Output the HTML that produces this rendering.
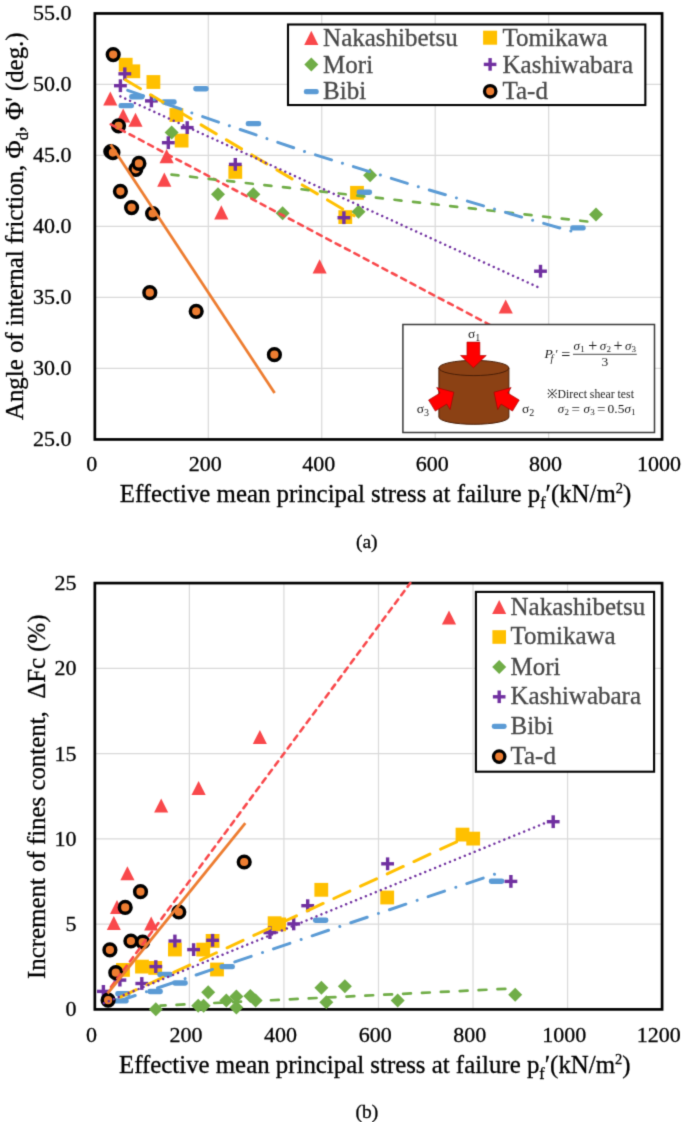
<!DOCTYPE html>
<html><head><meta charset="utf-8"><style>
html,body{margin:0;padding:0;background:#fff;overflow:hidden;}
svg{display:block;font-family:"Liberation Serif", serif;}
</style></head><body>
<svg width="685" height="1122" viewBox="0 0 685 1122">
<defs><filter id="soft" x="0" y="0" width="685" height="1122" filterUnits="userSpaceOnUse" color-interpolation-filters="sRGB"><feConvolveMatrix order="3" kernelMatrix="0.01917 0.10012 0.01917 0.10012 0.52283 0.10012 0.01917 0.10012 0.01917" divisor="1" edgeMode="duplicate" preserveAlpha="true"/></filter></defs>
<g filter="url(#soft)">
<rect width="685" height="1122" fill="#fff"/>
<line x1="208.30" y1="14" x2="208.30" y2="439" stroke="#D9D9D9" stroke-width="1.2"/>
<line x1="321.75" y1="14" x2="321.75" y2="439" stroke="#D9D9D9" stroke-width="1.2"/>
<line x1="435.20" y1="14" x2="435.20" y2="439" stroke="#D9D9D9" stroke-width="1.2"/>
<line x1="548.65" y1="14" x2="548.65" y2="439" stroke="#D9D9D9" stroke-width="1.2"/>
<line x1="95" y1="368.45" x2="662" y2="368.45" stroke="#D9D9D9" stroke-width="1.2"/>
<line x1="95" y1="297.45" x2="662" y2="297.45" stroke="#D9D9D9" stroke-width="1.2"/>
<line x1="95" y1="226.45" x2="662" y2="226.45" stroke="#D9D9D9" stroke-width="1.2"/>
<line x1="95" y1="155.45" x2="662" y2="155.45" stroke="#D9D9D9" stroke-width="1.2"/>
<line x1="95" y1="84.45" x2="662" y2="84.45" stroke="#D9D9D9" stroke-width="1.2"/>
<text x="91.8" y="471" font-size="22" text-anchor="middle" fill="#000" stroke="#000" stroke-width="0.3" >0</text>
<text x="205.3" y="471" font-size="22" text-anchor="middle" fill="#000" stroke="#000" stroke-width="0.3" >200</text>
<text x="318.8" y="471" font-size="22" text-anchor="middle" fill="#000" stroke="#000" stroke-width="0.3" >400</text>
<text x="432.2" y="471" font-size="22" text-anchor="middle" fill="#000" stroke="#000" stroke-width="0.3" >600</text>
<text x="545.6" y="471" font-size="22" text-anchor="middle" fill="#000" stroke="#000" stroke-width="0.3" >800</text>
<text x="659.1" y="471" font-size="22" text-anchor="middle" fill="#000" stroke="#000" stroke-width="0.3" >1000</text>
<text x="71.5" y="446.4" font-size="22" text-anchor="end" fill="#000" stroke="#000" stroke-width="0.3" >25.0</text>
<text x="71.5" y="375.4" font-size="22" text-anchor="end" fill="#000" stroke="#000" stroke-width="0.3" >30.0</text>
<text x="71.5" y="304.4" font-size="22" text-anchor="end" fill="#000" stroke="#000" stroke-width="0.3" >35.0</text>
<text x="71.5" y="233.4" font-size="22" text-anchor="end" fill="#000" stroke="#000" stroke-width="0.3" >40.0</text>
<text x="71.5" y="162.4" font-size="22" text-anchor="end" fill="#000" stroke="#000" stroke-width="0.3" >45.0</text>
<text x="71.5" y="91.4" font-size="22" text-anchor="end" fill="#000" stroke="#000" stroke-width="0.3" >50.0</text>
<text x="71.5" y="20.4" font-size="22" text-anchor="end" fill="#000" stroke="#000" stroke-width="0.3" >55.0</text>
<rect x="94.85" y="13.45" width="567.25" height="426" fill="none" stroke="#000" stroke-width="2.7"/>
<polygon points="110.3,91.5 117.3,105.5 103.2,105.5" fill="#F9484B"/>
<polygon points="123.2,108.5 130.2,122.5 116.2,122.5" fill="#F9484B"/>
<polygon points="135.5,112.7 142.6,126.8 128.4,126.8" fill="#F9484B"/>
<polygon points="166.6,149.1 173.7,163.2 159.5,163.2" fill="#F9484B"/>
<polygon points="164.3,172.5 171.4,186.7 157.2,186.7" fill="#F9484B"/>
<polygon points="221.3,205.2 228.4,219.4 214.2,219.4" fill="#F9484B"/>
<polygon points="319.6,259.3 326.7,273.4 312.6,273.4" fill="#F9484B"/>
<polygon points="505.7,299.4 512.8,313.6 498.6,313.6" fill="#F9484B"/>
<rect x="118.8" y="57.8" width="13.8" height="13.8" fill="#FFC000"/>
<rect x="126.4" y="64.4" width="13.8" height="13.8" fill="#FFC000"/>
<rect x="146.5" y="75.1" width="13.8" height="13.8" fill="#FFC000"/>
<rect x="169.5" y="108.1" width="13.8" height="13.8" fill="#FFC000"/>
<rect x="174.7" y="133.7" width="13.8" height="13.8" fill="#FFC000"/>
<rect x="228.4" y="165.0" width="13.8" height="13.8" fill="#FFC000"/>
<rect x="350.1" y="185.9" width="13.8" height="13.8" fill="#FFC000"/>
<rect x="338.4" y="210.2" width="13.8" height="13.8" fill="#FFC000"/>
<polygon points="171.6,125.4 178.6,132.4 171.6,139.4 164.6,132.4" fill="#70AD47"/>
<polygon points="218.0,187.3 225.0,194.3 218.0,201.3 211.0,194.3" fill="#70AD47"/>
<polygon points="253.4,187.3 260.4,194.3 253.4,201.3 246.4,194.3" fill="#70AD47"/>
<polygon points="282.6,206.3 289.6,213.3 282.6,220.3 275.6,213.3" fill="#70AD47"/>
<polygon points="370.1,168.3 377.1,175.3 370.1,182.3 363.1,175.3" fill="#70AD47"/>
<polygon points="358.5,204.8 365.5,211.8 358.5,218.8 351.5,211.8" fill="#70AD47"/>
<polygon points="596.0,207.6 603.0,214.6 596.0,221.6 589.0,214.6" fill="#70AD47"/>
<rect x="118.4" y="72.1" width="12.8" height="3.4" fill="#7030A0"/><rect x="123.1" y="67.4" width="3.4" height="12.8" fill="#7030A0"/>
<rect x="114.0" y="84.0" width="12.8" height="3.4" fill="#7030A0"/><rect x="118.7" y="79.3" width="3.4" height="12.8" fill="#7030A0"/>
<rect x="145.0" y="99.2" width="12.8" height="3.4" fill="#7030A0"/><rect x="149.7" y="94.5" width="3.4" height="12.8" fill="#7030A0"/>
<rect x="180.8" y="125.9" width="12.8" height="3.4" fill="#7030A0"/><rect x="185.5" y="121.2" width="3.4" height="12.8" fill="#7030A0"/>
<rect x="161.9" y="141.0" width="12.8" height="3.4" fill="#7030A0"/><rect x="166.6" y="136.3" width="3.4" height="12.8" fill="#7030A0"/>
<rect x="228.9" y="162.7" width="12.8" height="3.4" fill="#7030A0"/><rect x="233.6" y="158.0" width="3.4" height="12.8" fill="#7030A0"/>
<rect x="337.5" y="216.0" width="12.8" height="3.4" fill="#7030A0"/><rect x="342.2" y="211.3" width="3.4" height="12.8" fill="#7030A0"/>
<rect x="534.1" y="269.5" width="12.8" height="3.4" fill="#7030A0"/><rect x="538.8" y="264.8" width="3.4" height="12.8" fill="#7030A0"/>
<rect x="193.2" y="86.1" width="15.5" height="5.4" rx="2.4" fill="#5B9BD5"/>
<rect x="129.1" y="94.1" width="15.5" height="5.4" rx="2.4" fill="#5B9BD5"/>
<rect x="118.5" y="102.9" width="15.5" height="5.4" rx="2.4" fill="#5B9BD5"/>
<rect x="161.2" y="99.3" width="15.5" height="5.4" rx="2.4" fill="#5B9BD5"/>
<rect x="245.7" y="120.9" width="15.5" height="5.4" rx="2.4" fill="#5B9BD5"/>
<rect x="356.6" y="189.6" width="15.5" height="5.4" rx="2.4" fill="#5B9BD5"/>
<rect x="570.2" y="225.2" width="15.5" height="5.4" rx="2.4" fill="#5B9BD5"/>
<circle cx="113.2" cy="54.6" r="5.85" fill="#ED7D31" stroke="#000" stroke-width="3.5"/>
<circle cx="118.5" cy="125.8" r="5.85" fill="#ED7D31" stroke="#000" stroke-width="3.5"/>
<circle cx="110.8" cy="151.5" r="5.85" fill="#ED7D31" stroke="#000" stroke-width="3.5"/>
<circle cx="112.9" cy="152.6" r="5.85" fill="#ED7D31" stroke="#000" stroke-width="3.5"/>
<circle cx="135.8" cy="169.3" r="5.85" fill="#ED7D31" stroke="#000" stroke-width="3.5"/>
<circle cx="138.9" cy="163.4" r="5.85" fill="#ED7D31" stroke="#000" stroke-width="3.5"/>
<circle cx="120.4" cy="191.3" r="5.85" fill="#ED7D31" stroke="#000" stroke-width="3.5"/>
<circle cx="131.6" cy="207.6" r="5.85" fill="#ED7D31" stroke="#000" stroke-width="3.5"/>
<circle cx="152.6" cy="213.5" r="5.85" fill="#ED7D31" stroke="#000" stroke-width="3.5"/>
<circle cx="149.8" cy="292.7" r="5.85" fill="#ED7D31" stroke="#000" stroke-width="3.5"/>
<circle cx="196.2" cy="311.3" r="5.85" fill="#ED7D31" stroke="#000" stroke-width="3.5"/>
<circle cx="274.4" cy="354.7" r="5.85" fill="#ED7D31" stroke="#000" stroke-width="3.5"/>
<polyline points="109.0,123.4 500.0,330.2" fill="none" stroke="#F9484B" stroke-width="2.6" stroke-dasharray="5.3 5.3" stroke-dashoffset="-2" stroke-linecap="round" stroke-linejoin="round"/>
<polyline points="125.3,79.8 354.2,215.8" fill="none" stroke="#FFC000" stroke-width="3" stroke-dasharray="17.6 11.8" stroke-dashoffset="0" stroke-linecap="round" stroke-linejoin="round"/>
<polyline points="170.6,174.5 588.1,221.6" fill="none" stroke="#70AD47" stroke-width="2.7" stroke-dasharray="7.0 11.7" stroke-dashoffset="-0.9" stroke-linecap="round" stroke-linejoin="round"/>
<polyline points="120.4,96.4 538.3,287.3" fill="none" stroke="#7030A0" stroke-width="2.5" stroke-dasharray="0.01 5.32" stroke-dashoffset="0" stroke-linecap="round" stroke-linejoin="round"/>
<polyline points="126.3,89.8 191.4,112.8 304.8,151.6 417.9,186.6 531.6,220.0 571.1,231.1" fill="none" stroke="#5B9BD5" stroke-width="3" stroke-dasharray="16.8 11.45 0.01 11.45" stroke-dashoffset="-1.5" stroke-linecap="round" stroke-linejoin="round"/>
<polyline points="110.6,144.5 274.6,393.0" fill="none" stroke="#ED7D31" stroke-width="2.8" stroke-linecap="butt" stroke-linejoin="round"/>
<rect x="288" y="24.5" width="357.35" height="80.55" fill="#fff" stroke="#000" stroke-width="2.1"/>
<polygon points="311.3,30.8 318.4,44.9 304.2,44.9" fill="#F9484B"/>
<text x="323.1" y="45.7" font-size="25" text-anchor="start" fill="#484848" stroke="#484848" stroke-width="0.3" >Nakashibetsu</text>
<polygon points="311.3,57.5 318.3,64.5 311.3,71.5 304.3,64.5" fill="#70AD47"/>
<text x="323.1" y="72.5" font-size="25" text-anchor="start" fill="#484848" stroke="#484848" stroke-width="0.3" >Mori</text>
<rect x="303.8" y="89.1" width="15" height="5.2" rx="2.4" fill="#5B9BD5"/>
<text x="323.1" y="99.4" font-size="25" text-anchor="start" fill="#484848" stroke="#484848" stroke-width="0.3" >Bibi</text>
<rect x="483.1" y="30.7" width="14" height="14" fill="#FFC000"/>
<text x="502.5" y="45.7" font-size="25" text-anchor="start" fill="#484848" stroke="#484848" stroke-width="0.3" >Tomikawa</text>
<rect x="483.8" y="62.7" width="12.6" height="3.4" fill="#7030A0"/><rect x="488.4" y="58.1" width="3.4" height="12.6" fill="#7030A0"/>
<text x="502.5" y="72.5" font-size="25" text-anchor="start" fill="#484848" stroke="#484848" stroke-width="0.3" >Kashiwabara</text>
<circle cx="490.2" cy="91.3" r="5.7" fill="#ED7D31" stroke="#000" stroke-width="3.3"/>
<text x="502.5" y="99.4" font-size="25" text-anchor="start" fill="#484848" stroke="#484848" stroke-width="0.3" >Ta-d</text>
<rect x="402.9" y="324.5" width="251.6" height="108" fill="#fff" stroke="#3a3a3a" stroke-width="1.5"/>
<path d="M438.9,368 L438.9,417 A35,7.3 0 0 0 508.9,417 L508.9,368 Z" fill="#8B4114" stroke="#4a1e06" stroke-width="1"/>
<ellipse cx="473.9" cy="368" rx="35" ry="7.6" fill="#8B4114" stroke="#4a1e06" stroke-width="1"/>
<polygon points="0,0 -12.2,-12.85 -12.2,-6.45 -25.6,-6.45 -25.6,6.45 -12.2,6.45 -12.2,12.85" fill="#FF0000" stroke="#A00000" stroke-width="0.6" transform="translate(473.4,367.7) rotate(90)"/>
<polygon points="0,0 -12.2,-12.85 -12.2,-6.45 -25.6,-6.45 -25.6,6.45 -12.2,6.45 -12.2,12.85" fill="#FF0000" stroke="#A00000" stroke-width="0.6" transform="translate(453.8,392.2) rotate(-31.4)"/>
<polygon points="0,0 -12.2,-12.85 -12.2,-6.45 -25.6,-6.45 -25.6,6.45 -12.2,6.45 -12.2,12.85" fill="#FF0000" stroke="#A00000" stroke-width="0.6" transform="translate(494.0,392.2) rotate(211.4)"/>
<text x="468" y="338" font-size="13.5" fill="#1a1a1a">σ<tspan font-size="10" dy="2.5">1</tspan></text>
<text x="416.8" y="413" font-size="13.5" fill="#1a1a1a">σ<tspan font-size="10" dy="2.5">3</tspan></text>
<text x="522" y="413" font-size="13.5" fill="#1a1a1a">σ<tspan font-size="10" dy="2.5">2</tspan></text>
<text x="544.4" y="358.4" font-size="13.5" fill="#1a1a1a" font-style="italic">P</text>
<text x="550.6" y="361.8" font-size="10" fill="#1a1a1a" font-style="italic">f</text>
<text x="555.6" y="357.5" font-size="12" fill="#1a1a1a">′</text>
<text x="561.2" y="360.4" font-size="16" fill="#1a1a1a">=</text>
<line x1="573" y1="354.3" x2="636.8" y2="354.3" stroke="#333" stroke-width="0.9"/>
<text x="573.6" y="350" font-size="13" fill="#1a1a1a" font-style="italic">σ</text><text x="580.2" y="352.2" font-size="9" fill="#1a1a1a">1</text>
<text x="588.3" y="351.4" font-size="16" fill="#1a1a1a">+</text>
<text x="599.8" y="350" font-size="13" fill="#1a1a1a" font-style="italic">σ</text><text x="606.4" y="352.2" font-size="9" fill="#1a1a1a">2</text>
<text x="613.6" y="351.4" font-size="16" fill="#1a1a1a">+</text>
<text x="625" y="350" font-size="13" fill="#1a1a1a" font-style="italic">σ</text><text x="631.6" y="352.2" font-size="9" fill="#1a1a1a">3</text>
<text x="604.8" y="366.2" font-size="13.5" fill="#1a1a1a" text-anchor="middle">3</text>
<text x="546.5" y="398.3" font-size="12.5" fill="#1a1a1a">※<tspan textLength="76.3" lengthAdjust="spacingAndGlyphs" x="557.6">Direct shear test</tspan></text>
<text x="557.8" y="413" font-size="13" fill="#1a1a1a" font-style="italic">σ</text><text x="564.4" y="415.2" font-size="9" fill="#1a1a1a">2</text>
<text x="571.6" y="414.2" font-size="15" fill="#1a1a1a">=</text>
<text x="583.6" y="413" font-size="13" fill="#1a1a1a" font-style="italic">σ</text><text x="590.2" y="415.2" font-size="9" fill="#1a1a1a">3</text>
<text x="597" y="414.2" font-size="15" fill="#1a1a1a">=</text>
<text x="607.6" y="413" font-size="13.5" fill="#1a1a1a">0.5</text>
<text x="624.4" y="413" font-size="13" fill="#1a1a1a" font-style="italic">σ</text><text x="631.0" y="415.2" font-size="9" fill="#1a1a1a">1</text>
<text x="119.8" y="502.4" font-size="24.85" text-anchor="start" fill="#000" stroke="#000" stroke-width="0.3" >Effective mean principal stress at failure p<tspan font-size="16" dy="6">f</tspan><tspan dy="-6">′(kN/m</tspan><tspan font-size="14.5" dy="-9.5">2</tspan><tspan dy="9.5">)</tspan></text>
<text transform="translate(23.3,420) rotate(-90)" font-size="24.85" fill="#000" stroke="#000" stroke-width="0.3">Angle of internal friction, Φ<tspan font-size="16" dy="5">d</tspan><tspan dy="-5">, Φ' (deg.)</tspan></text>
<text x="366.8" y="548.3" font-size="19.5" text-anchor="middle" fill="#000" stroke="#000" stroke-width="0.3" >(a)</text>
<line x1="189.39" y1="583" x2="189.39" y2="1009" stroke="#D9D9D9" stroke-width="1.2"/>
<line x1="283.93" y1="583" x2="283.93" y2="1009" stroke="#D9D9D9" stroke-width="1.2"/>
<line x1="378.48" y1="583" x2="378.48" y2="1009" stroke="#D9D9D9" stroke-width="1.2"/>
<line x1="473.02" y1="583" x2="473.02" y2="1009" stroke="#D9D9D9" stroke-width="1.2"/>
<line x1="567.56" y1="583" x2="567.56" y2="1009" stroke="#D9D9D9" stroke-width="1.2"/>
<line x1="95" y1="924.06" x2="662" y2="924.06" stroke="#D9D9D9" stroke-width="1.2"/>
<line x1="95" y1="838.82" x2="662" y2="838.82" stroke="#D9D9D9" stroke-width="1.2"/>
<line x1="95" y1="753.58" x2="662" y2="753.58" stroke="#D9D9D9" stroke-width="1.2"/>
<line x1="95" y1="668.34" x2="662" y2="668.34" stroke="#D9D9D9" stroke-width="1.2"/>
<text x="91.5" y="1041.8" font-size="22" text-anchor="middle" fill="#000" stroke="#000" stroke-width="0.3" >0</text>
<text x="186.1" y="1041.8" font-size="22" text-anchor="middle" fill="#000" stroke="#000" stroke-width="0.3" >200</text>
<text x="280.6" y="1041.8" font-size="22" text-anchor="middle" fill="#000" stroke="#000" stroke-width="0.3" >400</text>
<text x="375.2" y="1041.8" font-size="22" text-anchor="middle" fill="#000" stroke="#000" stroke-width="0.3" >600</text>
<text x="469.7" y="1041.8" font-size="22" text-anchor="middle" fill="#000" stroke="#000" stroke-width="0.3" >800</text>
<text x="564.3" y="1041.8" font-size="22" text-anchor="middle" fill="#000" stroke="#000" stroke-width="0.3" >1000</text>
<text x="658.8" y="1041.8" font-size="22" text-anchor="middle" fill="#000" stroke="#000" stroke-width="0.3" >1200</text>
<text x="76.5" y="1016.3" font-size="22" text-anchor="end" fill="#000" stroke="#000" stroke-width="0.3" >0</text>
<text x="76.5" y="931.1" font-size="22" text-anchor="end" fill="#000" stroke="#000" stroke-width="0.3" >5</text>
<text x="76.5" y="845.8" font-size="22" text-anchor="end" fill="#000" stroke="#000" stroke-width="0.3" >10</text>
<text x="76.5" y="760.6" font-size="22" text-anchor="end" fill="#000" stroke="#000" stroke-width="0.3" >15</text>
<text x="76.5" y="675.3" font-size="22" text-anchor="end" fill="#000" stroke="#000" stroke-width="0.3" >20</text>
<text x="76.5" y="590.1" font-size="22" text-anchor="end" fill="#000" stroke="#000" stroke-width="0.3" >25</text>
<rect x="94.85" y="583.1" width="567.25" height="426.3" fill="none" stroke="#000" stroke-width="2.7"/>
<polygon points="127.4,866.2 134.5,880.3 120.4,880.3" fill="#F9484B"/>
<polygon points="117.0,900.0 124.0,914.0 110.0,914.0" fill="#F9484B"/>
<polygon points="113.8,916.0 120.8,930.0 106.8,930.0" fill="#F9484B"/>
<polygon points="151.2,916.4 158.2,930.4 144.1,930.4" fill="#F9484B"/>
<polygon points="161.2,798.5 168.2,812.5 154.1,812.5" fill="#F9484B"/>
<polygon points="198.6,781.0 205.7,795.0 191.5,795.0" fill="#F9484B"/>
<polygon points="259.9,729.9 266.9,743.9 252.8,743.9" fill="#F9484B"/>
<polygon points="449.0,610.6 456.1,624.6 441.9,624.6" fill="#F9484B"/>
<rect x="116.1" y="963.0" width="13.8" height="13.8" fill="#FFC000"/>
<rect x="135.1" y="959.7" width="13.8" height="13.8" fill="#FFC000"/>
<rect x="148.3" y="961.0" width="13.8" height="13.8" fill="#FFC000"/>
<rect x="168.0" y="942.6" width="13.8" height="13.8" fill="#FFC000"/>
<rect x="196.3" y="942.7" width="13.8" height="13.8" fill="#FFC000"/>
<rect x="205.7" y="934.0" width="13.8" height="13.8" fill="#FFC000"/>
<rect x="210.1" y="962.6" width="13.8" height="13.8" fill="#FFC000"/>
<rect x="267.7" y="916.3" width="13.8" height="13.8" fill="#FFC000"/>
<rect x="272.3" y="917.5" width="13.8" height="13.8" fill="#FFC000"/>
<rect x="314.4" y="882.9" width="13.8" height="13.8" fill="#FFC000"/>
<rect x="380.3" y="890.6" width="13.8" height="13.8" fill="#FFC000"/>
<rect x="455.6" y="827.7" width="13.8" height="13.8" fill="#FFC000"/>
<rect x="466.3" y="831.7" width="13.8" height="13.8" fill="#FFC000"/>
<polygon points="155.8,1002.2 162.8,1009.2 155.8,1016.2 148.8,1009.2" fill="#70AD47"/>
<polygon points="198.2,998.8 205.2,1005.8 198.2,1012.8 191.2,1005.8" fill="#70AD47"/>
<polygon points="203.6,998.8 210.6,1005.8 203.6,1012.8 196.6,1005.8" fill="#70AD47"/>
<polygon points="208.2,985.2 215.2,992.2 208.2,999.2 201.2,992.2" fill="#70AD47"/>
<polygon points="226.3,993.6 233.3,1000.6 226.3,1007.6 219.3,1000.6" fill="#70AD47"/>
<polygon points="236.4,989.6 243.4,996.6 236.4,1003.6 229.4,996.6" fill="#70AD47"/>
<polygon points="236.4,1000.5 243.4,1007.5 236.4,1014.5 229.4,1007.5" fill="#70AD47"/>
<polygon points="250.3,988.9 257.3,995.9 250.3,1002.9 243.3,995.9" fill="#70AD47"/>
<polygon points="255.6,993.4 262.6,1000.4 255.6,1007.4 248.6,1000.4" fill="#70AD47"/>
<polygon points="321.4,980.8 328.4,987.8 321.4,994.8 314.4,987.8" fill="#70AD47"/>
<polygon points="326.3,995.3 333.3,1002.3 326.3,1009.3 319.3,1002.3" fill="#70AD47"/>
<polygon points="344.9,979.2 351.9,986.2 344.9,993.2 337.9,986.2" fill="#70AD47"/>
<polygon points="397.7,993.5 404.7,1000.5 397.7,1007.5 390.7,1000.5" fill="#70AD47"/>
<polygon points="515.2,987.8 522.2,994.8 515.2,1001.8 508.2,994.8" fill="#70AD47"/>
<rect x="97.0" y="989.7" width="12.8" height="3.4" fill="#7030A0"/><rect x="101.7" y="985.0" width="3.4" height="12.8" fill="#7030A0"/>
<rect x="113.5" y="978.4" width="12.8" height="3.4" fill="#7030A0"/><rect x="118.2" y="973.7" width="3.4" height="12.8" fill="#7030A0"/>
<rect x="135.4" y="981.8" width="12.8" height="3.4" fill="#7030A0"/><rect x="140.1" y="977.1" width="3.4" height="12.8" fill="#7030A0"/>
<rect x="149.4" y="964.9" width="12.8" height="3.4" fill="#7030A0"/><rect x="154.1" y="960.2" width="3.4" height="12.8" fill="#7030A0"/>
<rect x="168.5" y="939.3" width="12.8" height="3.4" fill="#7030A0"/><rect x="173.2" y="934.6" width="3.4" height="12.8" fill="#7030A0"/>
<rect x="187.2" y="947.9" width="12.8" height="3.4" fill="#7030A0"/><rect x="191.9" y="943.2" width="3.4" height="12.8" fill="#7030A0"/>
<rect x="206.2" y="938.6" width="12.8" height="3.4" fill="#7030A0"/><rect x="210.9" y="933.9" width="3.4" height="12.8" fill="#7030A0"/>
<rect x="263.5" y="930.9" width="12.8" height="3.4" fill="#7030A0"/><rect x="268.2" y="926.2" width="3.4" height="12.8" fill="#7030A0"/>
<rect x="287.3" y="922.2" width="12.8" height="3.4" fill="#7030A0"/><rect x="292.0" y="917.5" width="3.4" height="12.8" fill="#7030A0"/>
<rect x="301.3" y="904.0" width="12.8" height="3.4" fill="#7030A0"/><rect x="306.0" y="899.3" width="3.4" height="12.8" fill="#7030A0"/>
<rect x="381.2" y="862.1" width="12.8" height="3.4" fill="#7030A0"/><rect x="385.9" y="857.4" width="3.4" height="12.8" fill="#7030A0"/>
<rect x="504.5" y="879.7" width="12.8" height="3.4" fill="#7030A0"/><rect x="509.2" y="875.0" width="3.4" height="12.8" fill="#7030A0"/>
<rect x="546.8" y="820.0" width="12.8" height="3.4" fill="#7030A0"/><rect x="551.5" y="815.3" width="3.4" height="12.8" fill="#7030A0"/>
<rect x="113.2" y="998.2" width="15.5" height="5.4" rx="2.4" fill="#5B9BD5"/>
<rect x="115.2" y="991.1" width="15.5" height="5.4" rx="2.4" fill="#5B9BD5"/>
<rect x="147.4" y="988.8" width="15.5" height="5.4" rx="2.4" fill="#5B9BD5"/>
<rect x="157.2" y="971.8" width="15.5" height="5.4" rx="2.4" fill="#5B9BD5"/>
<rect x="172.3" y="980.3" width="15.5" height="5.4" rx="2.4" fill="#5B9BD5"/>
<rect x="219.4" y="963.9" width="15.5" height="5.4" rx="2.4" fill="#5B9BD5"/>
<rect x="312.9" y="917.5" width="15.5" height="5.4" rx="2.4" fill="#5B9BD5"/>
<rect x="488.8" y="878.5" width="15.5" height="5.4" rx="2.4" fill="#5B9BD5"/>
<circle cx="140.5" cy="891.7" r="5.85" fill="#ED7D31" stroke="#000" stroke-width="3.5"/>
<circle cx="125.2" cy="907.4" r="5.85" fill="#ED7D31" stroke="#000" stroke-width="3.5"/>
<circle cx="178.8" cy="912.0" r="5.85" fill="#ED7D31" stroke="#000" stroke-width="3.5"/>
<circle cx="130.9" cy="941.0" r="5.85" fill="#ED7D31" stroke="#000" stroke-width="3.5"/>
<circle cx="142.7" cy="942.0" r="5.85" fill="#ED7D31" stroke="#000" stroke-width="3.5"/>
<circle cx="109.9" cy="949.9" r="5.85" fill="#ED7D31" stroke="#000" stroke-width="3.5"/>
<circle cx="115.8" cy="972.7" r="5.85" fill="#ED7D31" stroke="#000" stroke-width="3.5"/>
<circle cx="108.1" cy="1000.2" r="5.85" fill="#ED7D31" stroke="#000" stroke-width="3.5"/>
<circle cx="244.2" cy="862.0" r="5.85" fill="#ED7D31" stroke="#000" stroke-width="3.5"/>
<polyline points="109.5,989.0 410.3,583.0" fill="none" stroke="#F9484B" stroke-width="2.6" stroke-dasharray="5.3 5.3" stroke-dashoffset="-2.5" stroke-linecap="round" stroke-linejoin="round"/>
<polyline points="115.8,999.2 459.5,840.5" fill="none" stroke="#FFC000" stroke-width="3" stroke-dasharray="17.6 11.8" stroke-dashoffset="-5" stroke-linecap="round" stroke-linejoin="round"/>
<polyline points="160.5,1005.6 507.8,988.7" fill="none" stroke="#70AD47" stroke-width="2.7" stroke-dasharray="7.8 11.1" stroke-dashoffset="2.8" stroke-linecap="round" stroke-linejoin="round"/>
<polyline points="103.9,1003.2 548.1,821.8" fill="none" stroke="#7030A0" stroke-width="2.5" stroke-dasharray="0.01 5.33" stroke-dashoffset="0" stroke-linecap="round" stroke-linejoin="round"/>
<polyline points="115.1,1002.3 495.0,874.1" fill="none" stroke="#5B9BD5" stroke-width="3" stroke-dasharray="17.3 11.9 0.01 11.6" stroke-dashoffset="-3.9" stroke-linecap="round" stroke-linejoin="round"/>
<polyline points="107.5,993.5 245.3,823.1" fill="none" stroke="#ED7D31" stroke-width="2.8" stroke-linecap="butt" stroke-linejoin="round"/>
<rect x="475.9" y="591.9" width="178.2" height="179.8" fill="#fff" stroke="#000" stroke-width="2.1"/>
<polygon points="499.2,599.9 506.2,613.9 492.1,613.9" fill="#F9484B"/>
<text x="510.5" y="614.5" font-size="25" text-anchor="start" fill="#484848" stroke="#484848" stroke-width="0.3" >Nakashibetsu</text>
<rect x="492.4" y="630.2" width="13.6" height="13.6" fill="#FFC000"/>
<text x="510.5" y="644.3" font-size="25" text-anchor="start" fill="#484848" stroke="#484848" stroke-width="0.3" >Tomikawa</text>
<polygon points="499.2,660.0 506.2,667.0 499.2,674.0 492.2,667.0" fill="#70AD47"/>
<text x="510.5" y="674.5" font-size="25" text-anchor="start" fill="#484848" stroke="#484848" stroke-width="0.3" >Mori</text>
<rect x="492.9" y="695.1" width="12.6" height="3.4" fill="#7030A0"/><rect x="497.5" y="690.5" width="3.4" height="12.6" fill="#7030A0"/>
<text x="510.5" y="704.2" font-size="25" text-anchor="start" fill="#484848" stroke="#484848" stroke-width="0.3" >Kashiwabara</text>
<rect x="491.7" y="723.8" width="15" height="5.2" rx="2.4" fill="#5B9BD5"/>
<text x="510.5" y="734.2" font-size="25" text-anchor="start" fill="#484848" stroke="#484848" stroke-width="0.3" >Bibi</text>
<circle cx="499.2" cy="756.6" r="5.7" fill="#ED7D31" stroke="#000" stroke-width="3.3"/>
<text x="510.5" y="764" font-size="25" text-anchor="start" fill="#484848" stroke="#484848" stroke-width="0.3" >Ta-d</text>
<text x="119.0" y="1073.3" font-size="24.85" text-anchor="start" fill="#000" stroke="#000" stroke-width="0.3" >Effective mean principal stress at failure p<tspan font-size="16" dy="6">f</tspan><tspan dy="-6">′(kN/m</tspan><tspan font-size="14.5" dy="-9.5">2</tspan><tspan dy="9.5">)</tspan></text>
<text transform="translate(44.5,978.9) rotate(-90)" font-size="24.85" fill="#000" stroke="#000" stroke-width="0.3">Increment of fines content,&#160; ΔFc (%)</text>
<text x="366.8" y="1117.8" font-size="19.5" text-anchor="middle" fill="#000" stroke="#000" stroke-width="0.3" >(b)</text>
</g>
</svg>
</body></html>
